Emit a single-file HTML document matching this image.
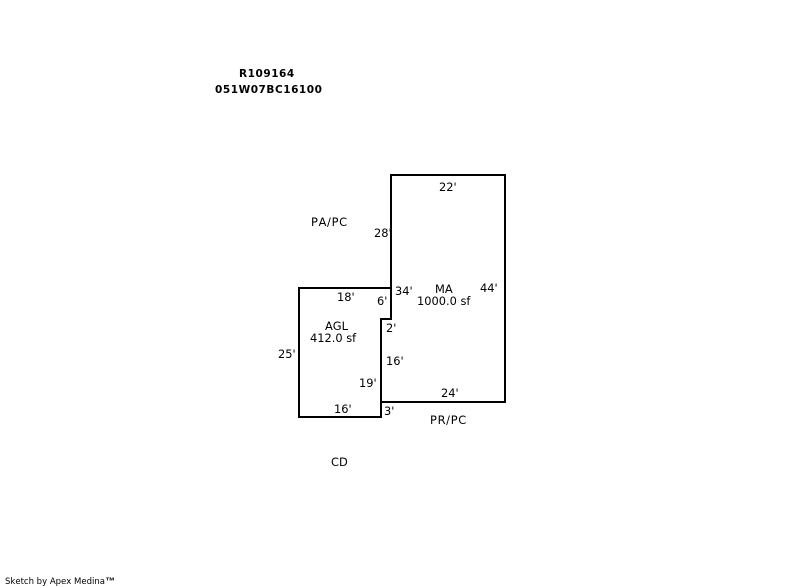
<!DOCTYPE html>
<html><head><meta charset="utf-8"><style>
html,body{margin:0;padding:0;background:#fff}
body{width:800px;height:587px;overflow:hidden;position:relative}
svg{position:absolute;left:0;top:0}
text{font-family:"DejaVu Sans","Liberation Sans",sans-serif;font-size:11.4px;fill:#000;font-kerning:none}
.b{font-weight:bold;font-size:10.5px;letter-spacing:.55px}
.s{font-size:9px}
.w{letter-spacing:.7px}
</style></head><body>
<svg width="800" height="587" viewBox="0 0 800 587" xmlns="http://www.w3.org/2000/svg">
<g fill="none" stroke="#000" stroke-width="2" shape-rendering="crispEdges" stroke-linecap="square">
<path d="M391 288V175H505V402H381"/>
<path d="M391 288H299V417H381V319H391V288"/>
</g>
<text class="b" x="239" y="77">R109164</text>
<text class="b" x="215" y="93">051W07BC16100</text>
<text class="w" x="311" y="226">PA/PC</text>
<text x="439" y="191">22'</text>
<text x="374" y="237">28'</text>
<text x="395" y="295">34'</text>
<text x="435" y="293">MA</text>
<text x="417" y="305">1000.0 sf</text>
<text x="480" y="292">44'</text>
<text x="337" y="301">18'</text>
<text x="377" y="305">6'</text>
<text x="386" y="332">2'</text>
<text x="325" y="330">AGL</text>
<text x="310" y="342">412.0 sf</text>
<text x="278" y="358">25'</text>
<text x="386" y="365">16'</text>
<text x="359" y="387">19'</text>
<text x="441" y="397">24'</text>
<text x="334" y="413">16'</text>
<text x="384" y="415">3'</text>
<text class="w" x="430" y="424">PR/PC</text>
<text x="331" y="466">CD</text>
<text class="s" x="5" y="584" textLength="100" lengthAdjust="spacingAndGlyphs">Sketch by Apex Medina</text>
<text x="105.5" y="584" style="font-family:'Liberation Sans',sans-serif;font-size:9.5px;font-weight:bold">™</text>
</svg>
</body></html>
